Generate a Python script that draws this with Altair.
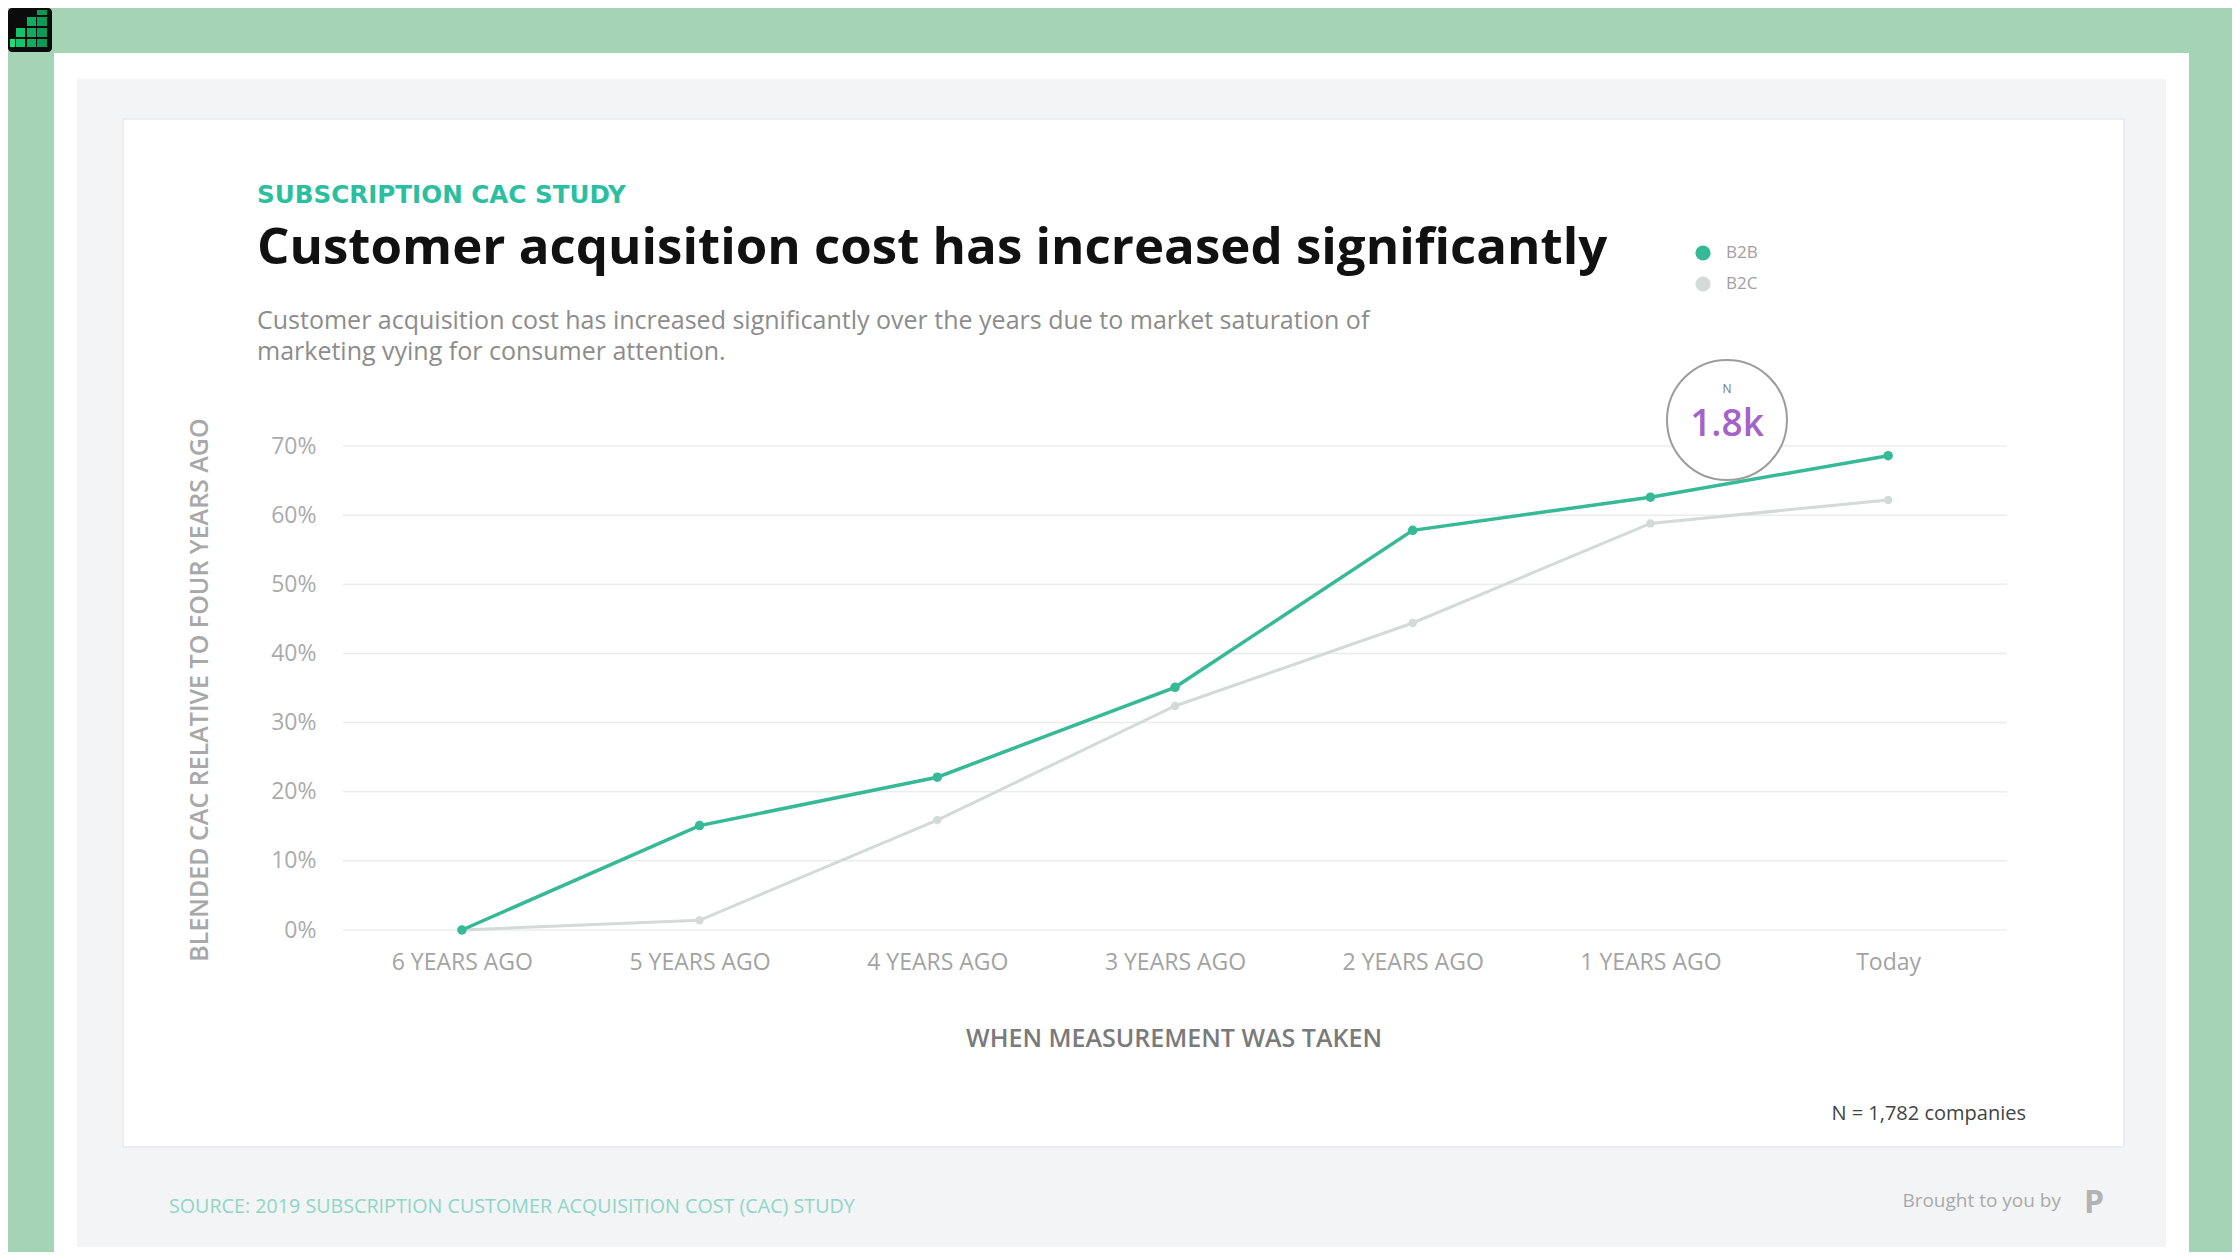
import altair as alt
import pandas as pd

# ---------------- data ----------------
periods = ["6 YEARS AGO", "5 YEARS AGO", "4 YEARS AGO", "3 YEARS AGO",
           "2 YEARS AGO", "1 YEARS AGO", "Today"]
b2b = [0.0, 0.151, 0.221, 0.351, 0.578, 0.626, 0.686]
b2c = [0.0, 0.014, 0.159, 0.324, 0.444, 0.588, 0.622]
series_names = ["B2B", "B2C"]
series_colors = ["#36b996", "#d3dad8"]
y_ticks = [0.0, 0.1, 0.2, 0.3, 0.4, 0.5, 0.6, 0.7]

df = pd.DataFrame({
    "period": periods + periods,
    "value": b2b + b2c,
    "series": ["B2B"] * len(periods) + ["B2C"] * len(periods),
})
ticks_df = pd.DataFrame({"value": y_ticks})
one = pd.DataFrame({"k": [0]})

FONT = "Open Sans"
# plot origin in page coordinates (reference pixels)
OX, OY = 343, 446
PW, PH = 1664, 484


def rect(x1, x2, y1, y2, color, **kw):
    return alt.Chart(one).mark_rect(color=color, **kw).encode(
        x=alt.value(x1 - OX), x2=alt.value(x2 - OX),
        y=alt.value(y1 - OY), y2=alt.value(y2 - OY))


def txt(s, x, y, size, color, weight="normal", align="left",
        baseline="alphabetic", angle=0, **kw):
    return alt.Chart(one).mark_text(
        text=s, fontSize=size, color=color, fontWeight=weight, align=align,
        baseline=baseline, angle=angle, font=kw.pop("font", FONT), **kw
    ).encode(x=alt.value(x - OX), y=alt.value(y - OY))


layers = []
# backgrounds
layers.append(rect(54, 2189, 53, 1260, "#ffffff"))
layers.append(rect(77, 2166, 79, 1247, "#f2f4f5"))
layers.append(rect(123, 2124, 119, 1147, "#ffffff", stroke="#e7e9ea", strokeWidth=1.5))

# logo top-left
layers.append(rect(8, 52, 8, 52, "#0b0b0b", cornerRadius=4))
cells = [(1, 4), (2, 4), (3, 4), (4, 4), (2, 3), (3, 3), (4, 3), (3, 2), (4, 2), (4, 1)]
colx = {1: (10, 15), 2: (16, 25), 3: (27, 36), 4: (37, 47)}
rowy = {1: (10, 15), 2: (17, 26), 3: (28, 37), 4: (39, 47)}
ccol = {1: "#19e07f", 2: "#12c46c", 3: "#0fae5f", 4: "#0c9a55"}
for c, r in cells:
    layers.append(rect(colx[c][0], colx[c][1], rowy[r][0], rowy[r][1], ccol[c]))

# header texts
layers.append(txt("SUBSCRIPTION CAC STUDY", 257, 203, 24.6, "#2bbf9f", weight="bold",
                  font="DejaVu Sans"))
layers.append(txt("Customer acquisition cost has increased significantly", 257, 264, 51,
                  "#111111", weight="bold"))
layers.append(txt("Customer acquisition cost has increased significantly over the years due to market saturation of",
                  257, 329, 25, "#8c8c8c"))
layers.append(txt("marketing vying for consumer attention.", 257, 360, 25, "#8c8c8c"))

# legend (manual, top right)
for i, (name, col) in enumerate(zip(series_names, series_colors)):
    layers.append(alt.Chart(one).mark_point(
        shape="circle", filled=True, size=230, color=col, opacity=1
    ).encode(x=alt.value(1703 - OX), y=alt.value(253 + 31 * i - OY)))
    layers.append(txt(name, 1726, 253 + 31 * i, 17, "#a0a0a0", baseline="middle"))

# axis titles
layers.append(txt("BLENDED CAC RELATIVE TO FOUR YEARS AGO", 200, 690, 25, "#a8a8a8",
                  weight=600, align="center", baseline="middle", angle=270))
layers.append(txt("WHEN MEASUREMENT WAS TAKEN", 1174, 1039, 25, "#7a7a7a",
                  weight=600, align="center", baseline="middle"))

# footer texts
layers.append(txt("N = 1,782 companies", 2026, 1120, 20, "#444444", align="right"))
layers.append(txt("SOURCE: 2019 SUBSCRIPTION CUSTOMER ACQUISITION COST (CAC) STUDY",
                  169, 1207, 19.7, "#8fd6c6", baseline="middle"))
layers.append(txt("Brought to you by", 2061, 1201, 19, "#aaaaaa", align="right", baseline="middle"))
layers.append(txt("P", 2094, 1203, 32, "#b3b3b3", weight="bold", align="center", baseline="middle"))

# scales / axes
xenc = alt.X("period:N", sort=periods,
             scale=alt.Scale(type="point", padding=0.5),
             axis=alt.Axis(title=None, labelAngle=0, labelFontSize=23, labelColor="#a3a3a3",
                           labelFont=FONT, labelPadding=21, domain=False, ticks=False,
                           grid=False, zindex=1))
yaxis = alt.Axis(title=None, values=y_ticks, format=".0%", labelFontSize=23,
                 labelColor="#ababab", labelFont=FONT, labelPadding=27,
                 domain=False, ticks=False, grid=False, zindex=1)
yscale = alt.Scale(domain=[0, 0.7], nice=False)
yenc = alt.Y("value:Q", scale=yscale, axis=yaxis)
cscale = alt.Scale(domain=series_names, range=series_colors)

# gridlines
layers.append(alt.Chart(ticks_df).mark_rule(color="#ececec", strokeWidth=1.5).encode(
    y=yenc, x=alt.value(0), x2=alt.value(PW)))

# N circle annotation (behind the lines)
layers.append(alt.Chart(one).mark_point(
    shape="circle", size=14400, filled=True, fill="#ffffff", stroke="#9c9c9c",
    strokeWidth=2, opacity=1
).encode(x=alt.value(1727 - OX), y=alt.value(420 - OY)))
layers.append(txt("N", 1727, 389, 12, "#777777", align="center", baseline="middle"))
layers.append(txt("1.8k", 1727, 425, 37, "#a563c9", weight=600, align="center", baseline="middle"))

# data layers
base = alt.Chart(df)
color = alt.Color("series:N", scale=cscale, legend=None)
line_c = base.transform_filter(alt.datum.series == "B2C").mark_line(strokeWidth=3).encode(
    x=xenc, y=yenc, color=color)
pts_c = base.transform_filter(alt.datum.series == "B2C").mark_point(
    filled=True, size=70, opacity=1).encode(x=xenc, y=yenc, color=color)
line_b = base.transform_filter(alt.datum.series == "B2B").mark_line(strokeWidth=3.5).encode(
    x=xenc, y=yenc, color=color)
pts_b = base.transform_filter(alt.datum.series == "B2B").mark_point(
    filled=True, size=90, opacity=1).encode(x=xenc, y=yenc, color=color)

layers += [line_c, pts_c, line_b, pts_b]

chart = alt.layer(*layers).properties(
    width=PW, height=PH,
    autosize=alt.AutoSizeParams(type="none"),
    padding={"left": OX - 8, "top": OY - 8, "right": 2224 - (OX - 8) - PW,
             "bottom": 1244 - (OY - 8) - PH},
).configure(background="#a4d4b4", font=FONT).configure_view(stroke=None)

chart.save("out.html", embed_options={"renderer": "svg", "actions": False})
